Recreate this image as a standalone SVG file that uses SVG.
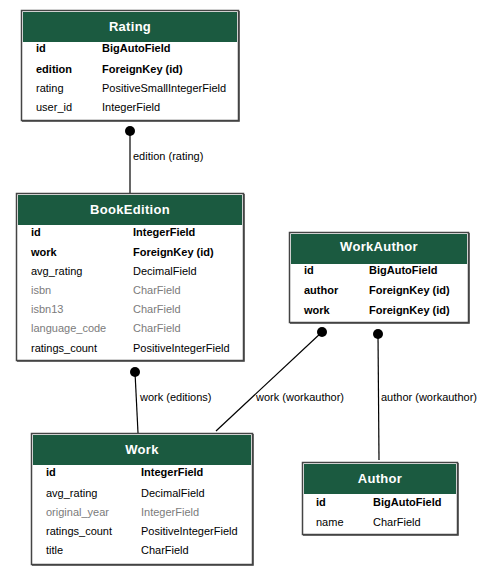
<svg xmlns="http://www.w3.org/2000/svg" width="486" height="575" viewBox="0 0 486 575">
<style>
.box{fill:#fff;stroke:#444;stroke-width:1.5}
.sh{stroke:#666;stroke-width:1;fill:none}
.hdr{fill:#1b5a40}
.title{font-family:"Liberation Sans",Arial,sans-serif;font-size:13px;font-weight:bold;fill:#fff;text-anchor:middle;letter-spacing:0.3px}
.f{font-family:"Liberation Sans",Arial,sans-serif;font-size:11px;fill:#000}
.b{font-weight:bold}
.g{fill:#7b7b7b}
.edge{stroke:#000;stroke-width:1.2;fill:none}
.lbl{font-family:"Liberation Sans",Arial,sans-serif;font-size:11px;fill:#000}
</style>
<rect width="486" height="575" fill="#fff"/>
<g id="connectors">
<line class="edge" x1="130" y1="131" x2="130" y2="193"/>
<circle cx="130" cy="131" r="5"/>
<text class="lbl" x="133" y="160">edition (rating)</text>
<line class="edge" x1="135" y1="372" x2="138" y2="433"/>
<circle cx="135" cy="372" r="5"/>
<text class="lbl" x="140" y="401">work (editions)</text>
<line class="edge" x1="322" y1="332" x2="216" y2="431"/>
<circle cx="322" cy="332" r="5"/>
<text class="lbl" x="256" y="401">work (workauthor)</text>
<line class="edge" x1="378" y1="334" x2="379" y2="460"/>
<circle cx="378" cy="334" r="5"/>
<text class="lbl" x="381" y="401">author (workauthor)</text>
</g>
<g id="Rating">
<rect class="box" x="21.5" y="10.5" width="217" height="110"/>
<polyline class="sh" points="239.5,11 239.5,121.5 22,121.5"/>
<rect class="hdr" x="23" y="12" width="214" height="30"/>
<text class="title" x="130" y="31">Rating</text>
<text class="f b" x="36" y="52">id</text><text class="f b" x="102" y="52">BigAutoField</text>
<text class="f b" x="36" y="73">edition</text><text class="f b" x="102" y="73">ForeignKey (id)</text>
<text class="f" x="36" y="92">rating</text><text class="f" x="102" y="92">PositiveSmallIntegerField</text>
<text class="f" x="36" y="111">user_id</text><text class="f" x="102" y="111">IntegerField</text>
</g>
<g id="BookEdition">
<rect class="box" x="16.5" y="193.5" width="227" height="167"/>
<polyline class="sh" points="244.5,194 244.5,361.5 17,361.5"/>
<rect class="hdr" x="18" y="195" width="224" height="30"/>
<text class="title" x="130" y="214">BookEdition</text>
<text class="f b" x="31" y="236">id</text><text class="f b" x="133" y="236">IntegerField</text>
<text class="f b" x="31" y="256">work</text><text class="f b" x="133" y="256">ForeignKey (id)</text>
<text class="f" x="31" y="275">avg_rating</text><text class="f" x="133" y="275">DecimalField</text>
<text class="f g" x="31" y="294">isbn</text><text class="f g" x="133" y="294">CharField</text>
<text class="f g" x="31" y="313">isbn13</text><text class="f g" x="133" y="313">CharField</text>
<text class="f g" x="31" y="332">language_code</text><text class="f g" x="133" y="332">CharField</text>
<text class="f" x="31" y="352">ratings_count</text><text class="f" x="133" y="352">PositiveIntegerField</text>
</g>
<g id="WorkAuthor">
<rect class="box" x="289.5" y="232.5" width="179" height="90"/>
<polyline class="sh" points="469.5,233 469.5,323.5 290,323.5"/>
<rect class="hdr" x="291" y="234" width="176" height="30"/>
<text class="title" x="379" y="251">WorkAuthor</text>
<text class="f b" x="304" y="274">id</text><text class="f b" x="369" y="274">BigAutoField</text>
<text class="f b" x="304" y="294">author</text><text class="f b" x="369" y="294">ForeignKey (id)</text>
<text class="f b" x="304" y="314">work</text><text class="f b" x="369" y="314">ForeignKey (id)</text>
</g>
<g id="Work">
<rect class="box" x="31.5" y="433.5" width="221" height="131"/>
<polyline class="sh" points="253.5,434 253.5,565.5 32,565.5"/>
<rect class="hdr" x="33" y="435" width="218" height="30"/>
<text class="title" x="142" y="454">Work</text>
<text class="f b" x="46" y="476">id</text><text class="f b" x="141" y="476">IntegerField</text>
<text class="f" x="46" y="497">avg_rating</text><text class="f" x="141" y="497">DecimalField</text>
<text class="f g" x="46" y="516">original_year</text><text class="f g" x="141" y="516">IntegerField</text>
<text class="f" x="46" y="535">ratings_count</text><text class="f" x="141" y="535">PositiveIntegerField</text>
<text class="f" x="46" y="554">title</text><text class="f" x="141" y="554">CharField</text>
</g>
<g id="Author">
<rect class="box" x="302.5" y="462.5" width="155" height="72"/>
<polyline class="sh" points="458.5,463 458.5,535.5 303,535.5"/>
<rect class="hdr" x="304" y="464" width="152" height="30"/>
<text class="title" x="380" y="483">Author</text>
<text class="f b" x="316" y="506">id</text><text class="f b" x="373" y="506">BigAutoField</text>
<text class="f" x="316" y="526">name</text><text class="f" x="373" y="526">CharField</text>
</g>
</svg>
